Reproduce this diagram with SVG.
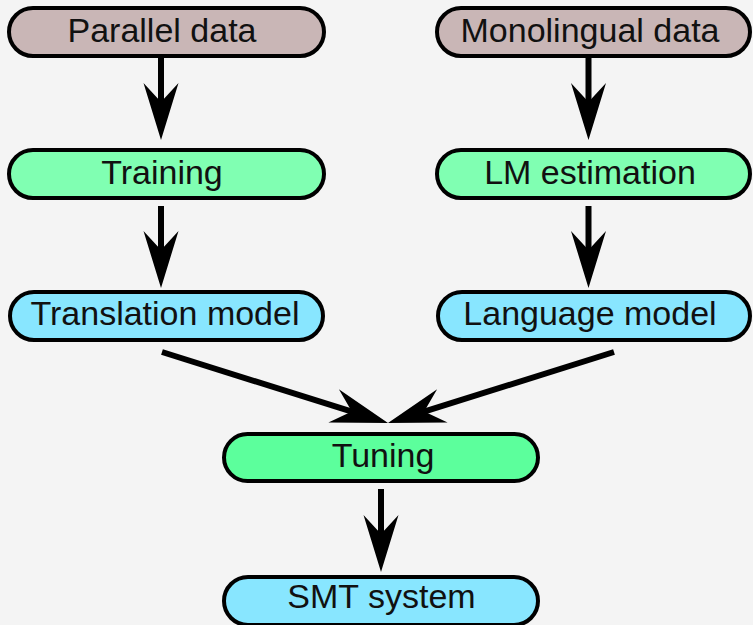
<svg xmlns="http://www.w3.org/2000/svg" width="753" height="625" viewBox="0 0 753 625">
<defs>
<style>
.box{stroke:#000;stroke-width:4}
.data{fill:#c9b6b6}
.proc{fill:#80ffb2}
.tune{fill:#5cff9c}
.model{fill:#88e6ff}
.lbl{font-family:"Liberation Sans",Arial,sans-serif;font-size:34px;fill:#111;text-anchor:middle}
.edge{stroke:#000;stroke-width:6;fill:none;marker-end:url(#ah)}
</style>
<marker id="ah" markerUnits="userSpaceOnUse" viewBox="-60 -20 62 40" refX="-32" refY="0" markerWidth="62" markerHeight="40" orient="auto">
<path d="M0,0 L-57,-17.5 L-38,0 L-57,17.5 Z" fill="#000"/>
</marker>
</defs>
<rect width="753" height="625" fill="#f4f4f4"/>
<g id="parallel-data"><rect class="box data" x="9" y="8" width="315" height="48" rx="24"/><text class="lbl" x="162" y="42">Parallel data</text></g>
<g id="monolingual-data"><rect class="box data" x="437" y="8" width="313" height="48" rx="24"/><text class="lbl" x="590" y="42">Monolingual data</text></g>
<g id="training"><rect class="box proc" x="9" y="150" width="315" height="48" rx="24"/><text class="lbl" x="162" y="184">Training</text></g>
<g id="lm-estimation"><rect class="box proc" x="437" y="150" width="313" height="48" rx="24"/><text class="lbl" x="590" y="184">LM estimation</text></g>
<g id="translation-model"><rect class="box model" x="10" y="292" width="313" height="48" rx="24"/><text class="lbl" x="165" y="325">Translation model</text></g>
<g id="language-model"><rect class="box model" x="438" y="292" width="312" height="48" rx="24"/><text class="lbl" x="590" y="325">Language model</text></g>
<g id="tuning"><rect class="box tune" x="224" y="434" width="314" height="47" rx="23.5"/><text class="lbl" x="383" y="467">Tuning</text></g>
<g id="smt-system"><rect class="box model" x="224" y="577" width="314" height="48" rx="24"/><text class="lbl" x="381.5" y="608">SMT system</text></g>
<g id="connectors">
<line class="edge" x1="161" y1="58" x2="161" y2="108"/>
<line class="edge" x1="588.5" y1="58" x2="588.5" y2="108"/>
<line class="edge" x1="161" y1="206" x2="161" y2="256"/>
<line class="edge" x1="588.5" y1="206" x2="588.5" y2="256"/>
<line class="edge" x1="162" y1="352" x2="357.5" y2="413.4"/>
<line class="edge" x1="614" y1="352" x2="418.5" y2="413.4"/>
<line class="edge" x1="381" y1="489" x2="381" y2="540"/>
</g>
</svg>
